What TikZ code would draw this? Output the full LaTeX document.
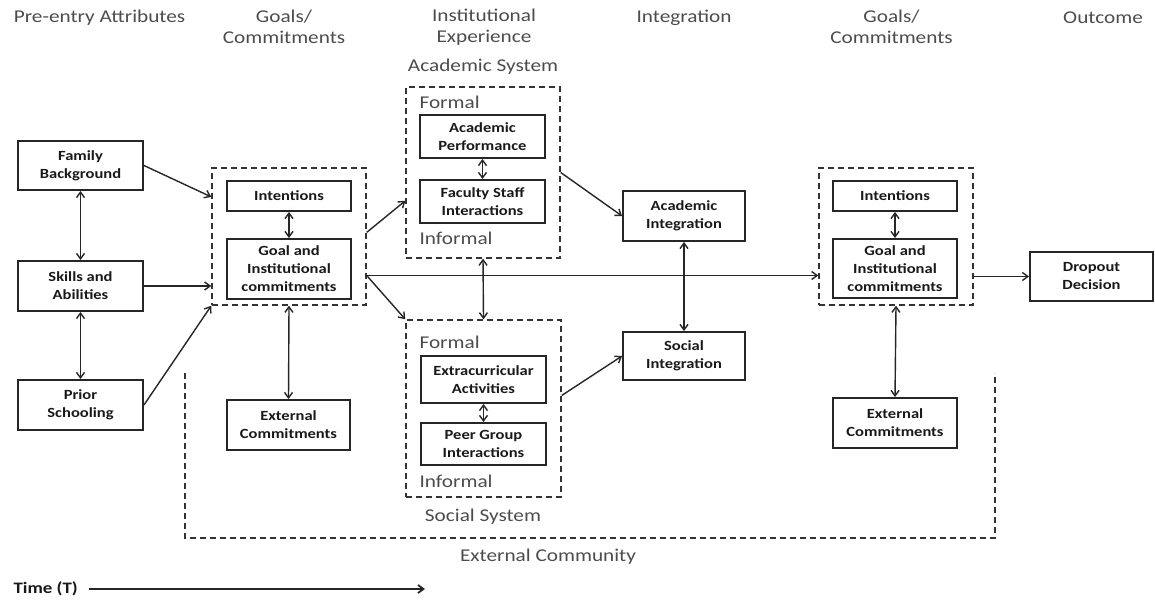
\documentclass[tikz,border=0pt]{standalone}
\usepackage{fontspec}
\setmainfont{Carlito}[FakeStretch=1.18]
\usetikzlibrary{arrows.meta}
\tikzset{
  box/.style={draw=black!85, line width=1.9pt, fill=white, font=\bfseries\fontsize{14}{18}\selectfont, align=center, inner sep=0pt, text=black!90},
  grp/.style={draw=black!80, line width=1.4pt, dash pattern=on 6pt off 4pt, inner sep=0pt},
  hd/.style={font=\fontsize{18}{21}\selectfont, text=black!70, align=center},
  lab/.style={font=\fontsize{18}{21}\selectfont, text=black!70},
  arr/.style={-{Straight Barb[length=5.5pt,width=8pt]}, line width=1.4pt, draw=black!85},
  darr/.style={{Straight Barb[length=5.5pt,width=8pt]}-{Straight Barb[length=5.5pt,width=8pt]}, line width=1.4pt, draw=black!85},
}
\begin{document}
\begin{tikzpicture}[x=1pt,y=-1pt]
\useasboundingbox (0,0) rectangle (1155,601);
% headers
\node[hd] (h1) at (99.5,18) {Pre-entry Attributes};
\node[hd] (h2) at (284,27) {Goals/\\Commitments};
\node[hd] (h3) at (484,27) {Institutional\\Experience};
\node[hd] (h4) at (684,18) {Integration};
\node[hd] (h5) at (891.5,27) {Goals/\\Commitments};
\node[hd] (h6) at (1103,18) {Outcome};
\node[lab] (acs) at (483,67) {Academic System};
\node[lab] (sos) at (483,517) {Social System};
\node[lab] (exc) at (548,557) {External Community};
% external community
\draw[grp] (185,373) -- (185,538) -- (995,538) -- (995,373);
% groups
\node[grp, minimum width=154pt, minimum height=137pt] (gc1) at (289,236.5) {};
\node[grp, minimum width=154pt, minimum height=171pt] (acad) at (483,172.5) {};
\node[grp, minimum width=155pt, minimum height=177pt] (soc) at (483.5,408.5) {};
\node[grp, minimum width=154pt, minimum height=137pt] (gc2) at (896,236.5) {};
\node[lab, anchor=west] (f1) at (416,102) {Formal};
\node[lab, anchor=west] (i1) at (416,238) {Informal};
\node[lab, anchor=west] (f2) at (416,342) {Formal};
\node[lab, anchor=west] (i2) at (416,481) {Informal};
% boxes
\node[box, minimum width=125pt, minimum height=49pt] (fb) at (80.5,165.5) {Family\\Background};
\node[box, minimum width=125pt, minimum height=50pt] (sa) at (80.5,286) {Skills and\\Abilities};
\node[box, minimum width=125pt, minimum height=50pt] (ps) at (80.5,405) {Prior\\Schooling};
\node[box, minimum width=124pt, minimum height=30pt] (int1) at (289,196) {Intentions};
\node[box, minimum width=124pt, minimum height=60pt] (gic1) at (289,269) {Goal and\\Institutional\\commitments};
\node[box, minimum width=123pt, minimum height=50pt] (ec1) at (288.5,425) {External\\Commitments};
\node[box, minimum width=125pt, minimum height=43pt] (ap) at (482.5,136.5) {Academic\\Performance};
\node[box, minimum width=125pt, minimum height=43pt] (fsi) at (482.5,201.5) {Faculty Staff\\Interactions};
\node[box, minimum width=125pt, minimum height=47pt] (eca) at (483.5,379.5) {Extracurricular\\Activities};
\node[box, minimum width=125pt, minimum height=42pt] (pgi) at (483.5,444) {Peer Group\\Interactions};
\node[box, minimum width=122pt, minimum height=50pt] (ai) at (684,216) {Academic\\Integration};
\node[box, minimum width=122pt, minimum height=48pt] (si) at (684,356) {Social\\Integration};
\node[box, minimum width=124pt, minimum height=30pt] (int2) at (895,196) {Intentions};
\node[box, minimum width=124pt, minimum height=59pt] (gic2) at (895,268.5) {Goal and\\Institutional\\commitments};
\node[box, minimum width=124pt, minimum height=50pt] (ec2) at (895,423) {External\\Commitments};
\node[box, minimum width=123pt, minimum height=49pt] (dd) at (1091.5,276.5) {Dropout\\Decision};
% connectors
\draw[darr] (fb.south) -- (sa.north);
\draw[darr] (sa.south) -- (ps.north);
\draw[arr] (fb.east) -- (gc1.153);
\draw[arr] (sa.east) -- (sa.east -| gc1.west);
\draw[arr] (ps.east) -- (gc1.south west);
\draw[darr] (int1.south) -- (gic1.north);
\draw[darr] (gc1.south) -- (ec1.north);
\draw[arr] (gc1.3) -- (acad.200);
\draw[arr] ([yshift=-39pt]gc1.east) -- (soc.north west);
\draw[arr] ([yshift=-39pt]gc1.east) -- ([yshift=-39pt]gc2.west);
\draw[darr] (ap.south) -- (fsi.north);
\draw[darr] (eca.south) -- (pgi.north);
\draw[darr] (acad.south) -- (soc.north);
\draw[arr] (acad.east) -- (ai.west);
\draw[arr] ([yshift=13pt]soc.east) -- (si.west);
\draw[darr] (ai.south) -- (si.north);
\draw[darr] (int2.south) -- (gic2.north);
\draw[darr] (gc2.south) -- (ec2.north);
\draw[arr] (gc2.east |- dd.west) -- (dd.west);
% time
\node[anchor=west, font=\bfseries\fontsize{16}{18}\selectfont, text=black!90] (time) at (10,589) {Time (T)};
\coordinate (tend) at (425,589);
\draw[arr, line width=1.8pt] ([xshift=8pt]time.east) -- (tend);
\end{tikzpicture}
\end{document}
